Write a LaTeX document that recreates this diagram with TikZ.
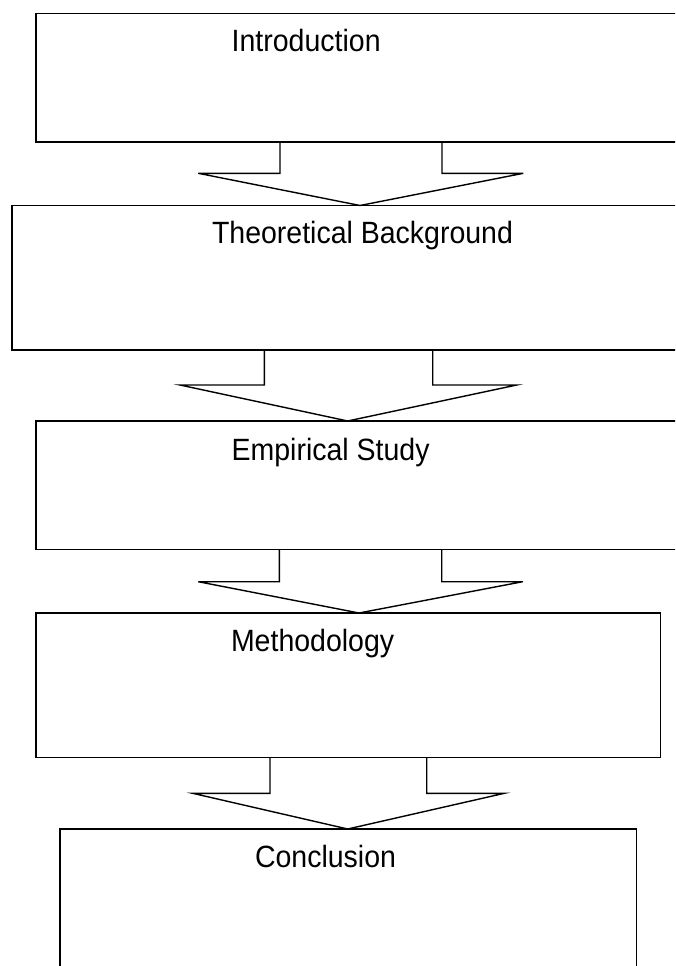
\documentclass[tikz,border=0pt]{standalone}
\usepackage{fontspec}
\usepackage{graphicx}
\setmainfont{Liberation Sans}
\begin{document}
\begin{tikzpicture}[x=1pt,y=1pt,
  line width=1.4pt,
  stagebox/.style={draw=black, rectangle, anchor=north west, inner sep=0pt, outer sep=0pt},
  stagelabel/.style={anchor=base west, inner sep=0pt, outer sep=0pt, font=\fontsize{28.5}{30}\selectfont},
  blockarrow/.style={draw=black, line join=miter}]
\useasboundingbox (0,0) rectangle (675,-966);
\clip (0,0) rectangle (675,-966);
% boxes
\node[stagebox, minimum width=680pt, minimum height=128.5pt] (b1) at (36,-13.5) {};
\node[stagebox, minimum width=700pt, minimum height=144.5pt] (b2) at (12,-205.5) {};
\node[stagebox, minimum width=680pt, minimum height=128.5pt] (b3) at (36,-421) {};
\node[stagebox, minimum width=624.5pt, minimum height=144.5pt] (b4) at (36,-613) {};
\node[stagebox, minimum width=576.7pt, minimum height=200pt] (b5) at (60,-829) {};
% labels
\node[stagelabel] (t1) at (231.7,-51.7) {\scalebox{1}[1.08]{Introduction}};
\node[stagelabel] (t2) at (212,-243.5) {\scalebox{1}[1.08]{Theoretical Background}};
\node[stagelabel] (t3) at (231.6,-460) {\scalebox{1}[1.08]{Empirical Study}};
\node[stagelabel] (t4) at (231,-651.7) {\scalebox{1}[1.08]{Methodology}};
\node[stagelabel] (t5) at (255,-867) {\scalebox{1}[1.08]{Conclusion}};
% block arrows
\draw[blockarrow] ([xshift=244pt]b1.south west) -- (280,-173.3) -- (198.3,-173.3)
  -- ([xshift=348pt]b2.north west) -- (523.3,-173.3) -- (442,-173.3) -- ([xshift=406pt]b1.south west);
\draw[blockarrow] ([xshift=252.3pt]b2.south west) -- (264.3,-385) -- (180,-385)
  -- ([xshift=311.7pt]b3.north west) -- (516.7,-385) -- (432.7,-385) -- ([xshift=420.7pt]b2.south west);
\draw[blockarrow] ([xshift=243.3pt]b3.south west) -- (279.3,-581.7) -- (198.3,-581.7)
  -- ([xshift=323pt]b4.north west) -- (522.7,-581.7) -- (441.7,-581.7) -- ([xshift=405.7pt]b3.south west);
\draw[blockarrow] ([xshift=234pt]b4.south west) -- (270,-793.3) -- (192.7,-793.3)
  -- ([xshift=287.7pt]b5.north west) -- (504.3,-793.3) -- (426.7,-793.3) -- ([xshift=390.7pt]b4.south west);
\end{tikzpicture}
\end{document}
